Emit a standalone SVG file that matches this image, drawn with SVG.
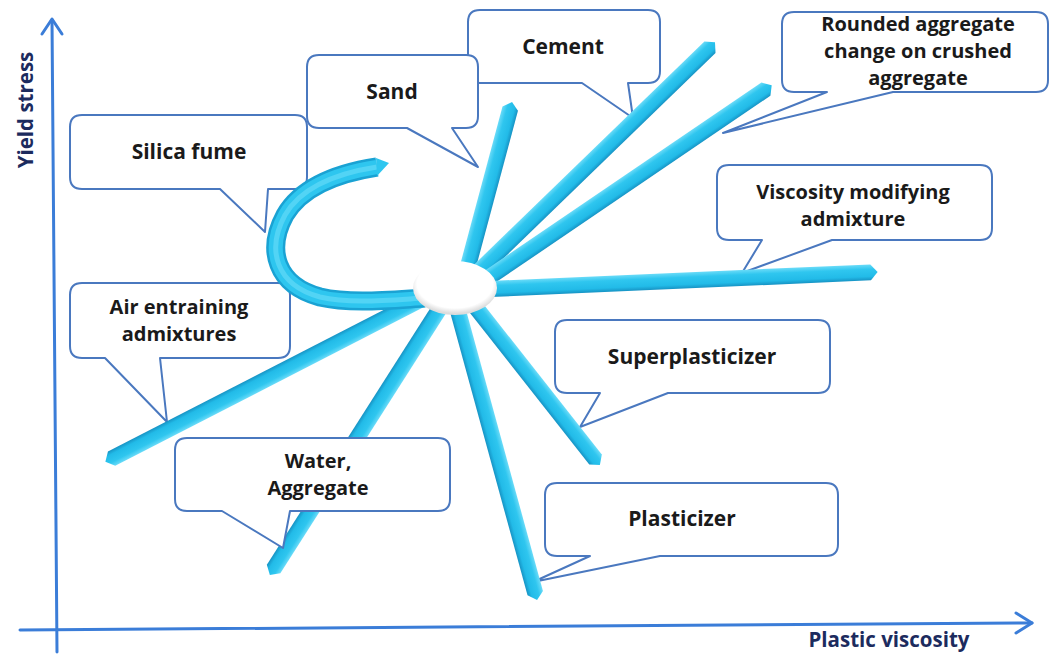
<svg xmlns="http://www.w3.org/2000/svg" width="1054" height="657" viewBox="0 0 1054 657">
<defs>
<linearGradient id="tube" x1="0" y1="0" x2="0" y2="1">
<stop offset="0" stop-color="#6adbf8"/>
<stop offset="0.3" stop-color="#2fc6ef"/>
<stop offset="0.75" stop-color="#22bbe8"/>
<stop offset="1" stop-color="#1793c4"/>
</linearGradient>
<radialGradient id="hub" cx="0.5" cy="0.42" r="0.55">
<stop offset="0.82" stop-color="#ffffff"/>
<stop offset="1" stop-color="#dcdcdc"/>
</radialGradient>
</defs>
<style>
.axis{stroke:#3b7dd8;stroke-width:3;fill:none;stroke-linecap:round;stroke-linejoin:round}
.axlabel{font-family:"Open Sans","Liberation Sans",sans-serif;font-weight:700;font-size:20.5px;fill:#1c2b5e}
.callout{fill:#ffffff;stroke:#4a78bf;stroke-width:2;stroke-linejoin:round}
.lbl{font-family:"Open Sans","Liberation Sans",sans-serif;font-weight:700;font-size:21px;fill:#1a1a1a;text-anchor:middle}
.lbl2{font-family:"Open Sans","Liberation Sans",sans-serif;font-weight:700;font-size:20px;fill:#1a1a1a;text-anchor:middle}
.ray{fill:url(#tube)}
.arcA{fill:none;stroke:#1aa2d3;stroke-width:19;stroke-linecap:butt}
.arcB{fill:none;stroke:#2ec6ef;stroke-width:14;stroke-linecap:butt}
.arcC{fill:none;stroke:#52d4f5;stroke-width:5;stroke-linecap:butt}
</style>
<rect width="1054" height="657" fill="#ffffff"/>
<g id="axes">
<path class="axis" d="M57,652 L52,20"/>
<path class="axis" d="M42,34 L52,19 L62,34"/>
<path class="axis" d="M20,630 L1032,623"/>
<path class="axis" d="M1016,613 L1032,623 L1016,633"/>
<text class="axlabel" transform="translate(33,110) rotate(-90)" text-anchor="middle">Yield stress</text>
<text class="axlabel" x="889" y="647" text-anchor="middle">Plastic viscosity</text>
</g>
<g id="node-cement">
<path class="callout" d="M480,10 H648 Q660,10 660,22 V71 Q660,83 648,83 H628 L633,118 L582,83 H480 Q468,83 468,71 V22 Q468,10 480,10 Z"/>
<text class="lbl" x="563" y="54">Cement</text>
</g>
<g id="node-sand">
<path class="callout" d="M319,55 H466 Q478,55 478,67 V116 Q478,128 466,128 H452 L478,167 L407,128 H319 Q307,128 307,116 V67 Q307,55 319,55 Z"/>
<text class="lbl" x="392" y="99">Sand</text>
</g>
<g id="node-silica-fume">
<path class="callout" d="M82,115 H295 Q307,115 307,127 V177 Q307,189 295,189 H268 L265,232 L220,189 H82 Q70,189 70,177 V127 Q70,115 82,115 Z"/>
<text class="lbl" x="189" y="159">Silica fume</text>
</g>
<g id="node-rounded-aggregate">
<path class="callout" d="M794,12 H1036 Q1048,12 1048,24 V80 Q1048,92 1036,92 H893 L723,133 L827,92 H794 Q782,92 782,80 V24 Q782,12 794,12 Z"/>
<text class="lbl2" x="918" y="31">Rounded aggregate</text>
<text class="lbl2" x="918" y="58">change on crushed</text>
<text class="lbl2" x="918" y="85">aggregate</text>
</g>
<g id="node-viscosity-modifying">
<path class="callout" d="M729,165 H980 Q992,165 992,177 V228 Q992,240 980,240 H832 L742,273 L762,240 H729 Q717,240 717,228 V177 Q717,165 729,165 Z"/>
<text class="lbl2" x="853" y="199">Viscosity modifying</text>
<text class="lbl2" x="853" y="226">admixture</text>
</g>
<g id="node-air-entraining">
<path class="callout" d="M82,283 H278 Q290,283 290,295 V346 Q290,358 278,358 H160 L167,422 L105,358 H82 Q70,358 70,346 V295 Q70,283 82,283 Z"/>
<text class="lbl2" x="179" y="314">Air entraining</text>
<text class="lbl2" x="179" y="341">admixtures</text>
</g>
<g id="node-superplasticizer">
<path class="callout" d="M567,320 H818 Q830,320 830,332 V381 Q830,393 818,393 H668 L580,427 L600,393 H567 Q555,393 555,381 V332 Q555,320 567,320 Z"/>
<text class="lbl" x="692" y="364">Superplasticizer</text>
</g>
<g id="node-plasticizer">
<path class="callout" d="M557,483 H826 Q838,483 838,495 V544 Q838,556 826,556 H660 L533,582 L590,556 H557 Q545,556 545,544 V495 Q545,483 557,483 Z"/>
<text class="lbl" x="682" y="526">Plasticizer</text>
</g>
<g id="connectors">
<g transform="translate(467,270) rotate(-75)"><path class="ray" d="M0,-8 H167 L174,0 L167,8 H0 Z"/></g>
<g transform="translate(478,272) rotate(-44.1)"><path class="ray" d="M0,-8 H323 L330,0 L323,8 H0 Z"/></g>
<g transform="translate(488,278) rotate(-34.2)"><path class="ray" d="M0,-8 H336 L343,0 L336,8 H0 Z"/></g>
<g transform="translate(490,289) rotate(-2.5)"><path class="ray" d="M0,-8 H381 L388,0 L381,8 H0 Z"/></g>
<g transform="translate(470,300) rotate(51.8)"><path class="ray" d="M0,-8 H203 L210,0 L203,8 H0 Z"/></g>
<g transform="translate(455,300) rotate(74.7)"><path class="ray" d="M0,-8 H304 L311,0 L304,8 H0 Z"/></g>
<g transform="translate(445,300) rotate(122.5)"><path class="ray" d="M0,-8 H319 L326,0 L319,8 H0 Z"/></g>
<g transform="translate(430,295) rotate(152.8)"><path class="ray" d="M0,-8 H358 L365,0 L358,8 H0 Z"/></g>
<path class="arcA" d="M377,167 C338,173 302,186 285,215 C266,250 276,285 320,297 C350,304 390,300 425,298"/>
<path class="arcB" d="M377,167 C338,173 302,186 285,215 C266,250 276,285 320,297 C350,304 390,300 425,298"/>
<path class="arcC" d="M377,167 C338,173 302,186 285,215 C266,250 276,285 320,297 C350,304 390,300 425,298"/>
<polygon points="376,158 389,163 377,176" fill="#2ec6ef"/>
<ellipse cx="455" cy="288" rx="42" ry="27" fill="url(#hub)"/>
</g>
<g id="node-water-aggregate">
<path class="callout" d="M187,438 H438 Q450,438 450,450 V499 Q450,511 438,511 H290 L283,548 L222,511 H187 Q175,511 175,499 V450 Q175,438 187,438 Z"/>
<text class="lbl2" x="318" y="468">Water,</text>
<text class="lbl2" x="318" y="495">Aggregate</text>
</g>
</svg>
